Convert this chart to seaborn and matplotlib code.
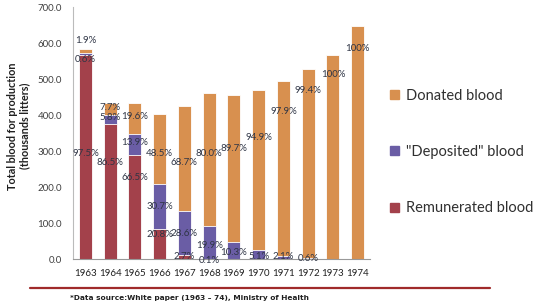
import numpy as np
import matplotlib
matplotlib.use('Agg')
import matplotlib.pyplot as plt
from matplotlib.lines import Line2D
from matplotlib.patches import Patch
import seaborn as sns

sns.set_style('white')
plt.rcParams['font.family'] = ['Lato', 'DejaVu Sans']

# 数据：血液来源（千升）
years = ['1963', '1964', '1965', '1966', '1967', '1968',
         '1969', '1970', '1971', '1972', '1973', '1974']
remunerated = [568, 375, 288, 84, 11.5, 0.5, 0, 0, 0, 0, 0, 0]
deposited = [3.5, 25, 60, 124, 121.5, 92, 47, 24, 10, 3, 0, 0]
donated = [11, 33, 85, 195, 292, 369, 409, 445, 484, 525, 567, 647]

# 百分比标签
pct_rem = ['97.5%', '86.5%', '66.5%', '20.8%', '2.7%', '0.1%']
pct_dep = ['0.6%', '5.8%', '13.9%', '30.7%', '28.6%', '19.9%',
           '10.3%', '5.1%', '2.1%', '0.6%']
pct_don = ['1.9%', '7.7%', '19.6%', '48.5%', '68.7%', '80.0%', '89.7%',
           '94.9%', '97.9%', '99.4%', '100%', '100%']

# 标签位置（数据坐标）
pos_rem = [294, 269, 228, 69, 8, -3]
pos_dep = [553, 392, 325, 147, 72, 39, 19, 8, 8, 3]
pos_don = [608, 422, 397, 292, 269, 292, 308, 339, 411, 467, 514, 586]

C_DON = '#D8904F'
C_DEP = '#6A5DA5'
C_REM = '#A3414B'

rem = np.array(remunerated)
dep = np.array(deposited)
don = np.array(donated)

fig = plt.figure(figsize=(5.47, 3.07), dpi=100)
ax = fig.add_axes([0.1335, 0.156, 0.543, 0.821])

# 叠加绘制累计柱
sns.barplot(x=years, y=rem + dep + don, color=C_DON, width=0.53,
            edgecolor='white', linewidth=0.6, saturation=1, ax=ax)
sns.barplot(x=years, y=rem + dep, color=C_DEP, width=0.53,
            edgecolor='white', linewidth=0.6, saturation=1, ax=ax)
sns.barplot(x=years, y=rem, color=C_REM, width=0.53,
            edgecolor='white', linewidth=0.6, saturation=1, ax=ax)

lab_kw = dict(ha='center', va='center', fontsize=7, color='#2F3545')
for i, (t, y) in enumerate(zip(pct_don, pos_don)):
    ax.text(i, y, t, **lab_kw)
for i, (t, y) in enumerate(zip(pct_dep, pos_dep)):
    ax.text(i, y, t, **lab_kw)
for i, (t, y) in enumerate(zip(pct_rem, pos_rem)):
    ax.text(i, y, t, **lab_kw)

ax.set_xlim(-0.5, 11.5)
ax.set_ylim(0, 700)
ax.set_yticks(range(0, 701, 100))
ax.set_yticklabels([f'{v:.1f}' for v in range(0, 701, 100)])
ax.tick_params(axis='y', length=0, pad=8, labelsize=7, colors='#404040')
ax.tick_params(axis='x', length=0, pad=7, labelsize=7, colors='#202020')
ax.set_xlabel('')
ax.set_ylabel('')
for s in ['top', 'right']:
    ax.spines[s].set_visible(False)
ax.spines['left'].set_color('#BBBBBB')
ax.spines['left'].set_linewidth(0.8)
ax.spines['bottom'].set_color('#999999')
ax.spines['bottom'].set_linewidth(0.8)

fig.text(19 / 547, 1 - 126 / 307,
         'Total blood for production\n(thousands litters)',
         rotation=90, ha='center', va='center', fontsize=7.8,
         fontweight='bold', linespacing=1.15, color='#202020')

handles = [Patch(color=C_DON), Patch(color=C_DEP), Patch(color=C_REM)]
fig.legend(handles, ['Donated blood', '"Deposited" blood', 'Remunerated blood'],
           loc='center left', bbox_to_anchor=(390 / 547, 1 - 152 / 307),
           frameon=False, fontsize=10.5, labelspacing=2.9,
           borderpad=0, borderaxespad=0,
           handlelength=0.6, handleheight=0.6, handletextpad=0.5,
           labelcolor='#303030')

fig.add_artist(Line2D([30 / 547, 490 / 547], [1 - 288 / 307, 1 - 288 / 307],
                      color='#A02B2B', linewidth=1.6))
fig.text(70 / 547, 1 - 298 / 307,
         '*Data source:White paper (1963 \u2013 74), Ministry of Health',
         ha='left', va='center', fontsize=5.3, fontweight='bold',
         family=['Liberation Sans Narrow', 'DejaVu Sans'], color='#202020')

fig.savefig('out.png', dpi=100)
